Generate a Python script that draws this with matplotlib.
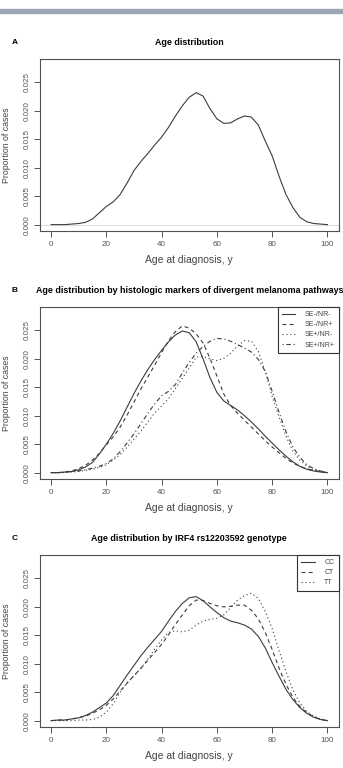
import numpy as np
import matplotlib.pyplot as plt
from matplotlib.patches import Rectangle

plt.rcParams['font.family'] = ['Liberation Sans', 'DejaVu Sans']

# age grid (years), read every 2.5 y
ages = np.arange(0, 100.1, 2.5)

# panel A: all cases
all_cases = [0, 0, 0, 0.0001, 0.0002, 0.0004, 0.0010, 0.0021, 0.0032, 0.0040,
             0.0053, 0.0073, 0.0095, 0.0111, 0.0125, 0.0140, 0.0154, 0.0171, 0.0191, 0.0209,
             0.0224, 0.0232, 0.0226, 0.0204, 0.0186, 0.0178, 0.0179, 0.0186, 0.0191, 0.0189,
             0.0175, 0.0147, 0.0121, 0.0085, 0.0053, 0.0030, 0.0013, 0.0005, 0.0002, 0.0001, 0]

# panel B: histologic markers
se_neg_nr_neg = [0, 0, 0.0001, 0.0002, 0.0005, 0.0010, 0.0018, 0.0033, 0.0050, 0.0069,
                 0.0091, 0.0115, 0.0139, 0.0161, 0.0181, 0.0199, 0.0215, 0.0230, 0.0242, 0.0249,
                 0.0246, 0.0230, 0.0200, 0.0167, 0.0141, 0.0126, 0.0118, 0.0110, 0.0100, 0.0089,
                 0.0077, 0.0064, 0.0052, 0.0040, 0.0029, 0.0019, 0.0011, 0.0006, 0.0003, 0.0001, 0]
se_neg_nr_pos = [0, 0, 0.0001, 0.0003, 0.0007, 0.0013, 0.0022, 0.0034, 0.0049, 0.0063,
                 0.0080, 0.0101, 0.0124, 0.0147, 0.0168, 0.0189, 0.0211, 0.0232, 0.0248, 0.0258,
                 0.0254, 0.0244, 0.0228, 0.0201, 0.0170, 0.0138, 0.0118, 0.0104, 0.0092, 0.0080,
                 0.0068, 0.0056, 0.0045, 0.0035, 0.0025, 0.0017, 0.0011, 0.0007, 0.0004, 0.0002, 0]
se_pos_nr_neg = [0, 0, 0, 0.0001, 0.0002, 0.0004, 0.0006, 0.0009, 0.0014, 0.0022,
                 0.0032, 0.0045, 0.0059, 0.0073, 0.0089, 0.0105, 0.0117, 0.0130, 0.0148, 0.0166,
                 0.0184, 0.0203, 0.0204, 0.0200, 0.0197, 0.0201, 0.0210, 0.0223, 0.0232, 0.0231,
                 0.0213, 0.0178, 0.0134, 0.0098, 0.0064, 0.0038, 0.0022, 0.0012, 0.0005, 0.0002, 0]
se_pos_nr_pos = [0, 0, 0.0001, 0.0002, 0.0003, 0.0005, 0.0008, 0.0011, 0.0016, 0.0024,
                 0.0037, 0.0052, 0.0068, 0.0086, 0.0104, 0.0121, 0.0135, 0.0143, 0.0155, 0.0175,
                 0.0194, 0.0210, 0.0222, 0.0231, 0.0236, 0.0235, 0.0231, 0.0225, 0.0219, 0.0212,
                 0.0199, 0.0178, 0.0143, 0.0106, 0.0072, 0.0045, 0.0027, 0.0014, 0.0007, 0.0003, 0]

# panel C: IRF4 genotype
cc = [0, 0.0001, 0.0001, 0.0003, 0.0005, 0.0009, 0.0015, 0.0023, 0.0031, 0.0044,
      0.0062, 0.0080, 0.0097, 0.0114, 0.0129, 0.0143, 0.0157, 0.0175, 0.0192, 0.0206,
      0.0216, 0.0218, 0.0211, 0.0200, 0.0190, 0.0181, 0.0175, 0.0172, 0.0168, 0.0161,
      0.0148, 0.0128, 0.0102, 0.0078, 0.0055, 0.0037, 0.0023, 0.0013, 0.0006, 0.0002, 0]
ct = [0, 0.0001, 0.0001, 0.0003, 0.0005, 0.0008, 0.0013, 0.0019, 0.0027, 0.0038,
      0.0052, 0.0066, 0.0079, 0.0092, 0.0106, 0.0120, 0.0134, 0.0151, 0.0169, 0.0186,
      0.0202, 0.0212, 0.0211, 0.0206, 0.0202, 0.0200, 0.0201, 0.0203, 0.0203, 0.0194,
      0.0179, 0.0155, 0.0125, 0.0092, 0.0064, 0.0041, 0.0025, 0.0014, 0.0007, 0.0002, 0]
tt = [0, 0, 0, 0, 0.0001, 0.0001, 0.0002, 0.0006, 0.0015, 0.0030,
      0.0050, 0.0066, 0.0079, 0.0092, 0.0108, 0.0126, 0.0142, 0.0155, 0.0158, 0.0156,
      0.0159, 0.0168, 0.0175, 0.0178, 0.0180, 0.0186, 0.0199, 0.0212, 0.0220, 0.0224,
      0.0215, 0.0192, 0.0162, 0.0123, 0.0086, 0.0054, 0.0031, 0.0016, 0.0008, 0.0003, 0]

titles = ['Age distribution',
          'Age distribution by histologic markers of divergent melanoma pathways',
          'Age distribution by IRF4 rs12203592 genotype']
letters = ['A', 'B', 'C']
labels_b = ['SE-/NR-', 'SE-/NR+', 'SE+/NR-', 'SE+/NR+']
labels_c = ['CC', 'CT', 'TT']

LINE = '#3c3c3c'
styles = ['-', (0, (3.5, 3)), (0, (1, 2.5)), (0, (1, 2.5, 4, 2.5))]

W, H = 343, 768
fig = plt.figure(figsize=(W / 100, H / 100), dpi=100)
fig.patches.append(Rectangle((0, 1 - 12.5 / H), 1, 3.5 / H, transform=fig.transFigure,
                             color='#9ba6b5', zorder=0))

boxes = [(59, 231), (307, 479), (555, 727)]
axes = []
for (top, bot) in boxes:
    ax = fig.add_axes([40 / W, 1 - bot / H, 298.5 / W, (bot - top) / H])
    axes.append(ax)

series = [[all_cases], [se_neg_nr_neg, se_neg_nr_pos, se_pos_nr_neg, se_pos_nr_pos], [cc, ct, tt]]
legends = [None, labels_b, labels_c]

for i, ax in enumerate(axes):
    top, bot = boxes[i]
    if i == 0:
        ax.axhline(0, color='#dddddd', lw=0.8, zorder=1)
    for j, ys in enumerate(series[i]):
        lab = legends[i][j] if legends[i] else None
        ax.plot(ages, ys, color=LINE, lw=0.8, linestyle=styles[j], label=lab, zorder=2)
    ax.set_xlim(-4, 104)
    ax.set_ylim(-0.00112, 0.02912)
    ax.set_xticks([0, 20, 40, 60, 80, 100])
    ax.set_yticks([0, 0.005, 0.010, 0.015, 0.020, 0.025])
    ax.set_yticklabels(['0.000', '0.005', '0.010', '0.015', '0.020', '0.025'],
                       rotation=90, va='center')
    ax.tick_params(axis='both', length=4, width=0.7, color='#555555', labelsize=5.8,
                   labelcolor='#555555', pad=3)
    for s in ax.spines.values():
        s.set_color('#505050')
        s.set_linewidth(0.8)
    ax.set_xlabel('Age at diagnosis, y', fontsize=7.5, color='#444444', va='center')
    ax.xaxis.set_label_coords(0.5, -29 / (bot - top))
    ax.set_ylabel('Proportion of cases', fontsize=6.3, color='#444444', va='center')
    ax.yaxis.set_label_coords(-33 / 298.5, 0.5)
    ax.text(0.5, 1 + 16.5 / (bot - top), titles[i], transform=ax.transAxes,
            ha='center', va='center', fontsize=6.4, fontweight='bold', clip_on=False)
    fig.text(15 / W, 1 - (top - 16.5) / H, letters[i], ha='center', va='center',
             fontsize=6, fontweight='bold')
    if legends[i]:
        hl = 1.9 if i == 1 else 2.1
        leg = ax.legend(loc='upper right', borderaxespad=0, fontsize=5, fancybox=False,
                        framealpha=1, edgecolor='#333333', handlelength=hl,
                        handletextpad=1.3, labelspacing=0.45, borderpad=0.6)
        leg.get_frame().set_linewidth(0.8)
        for t in leg.get_texts():
            t.set_color('#444444')

fig.savefig('out.png', dpi=100)
